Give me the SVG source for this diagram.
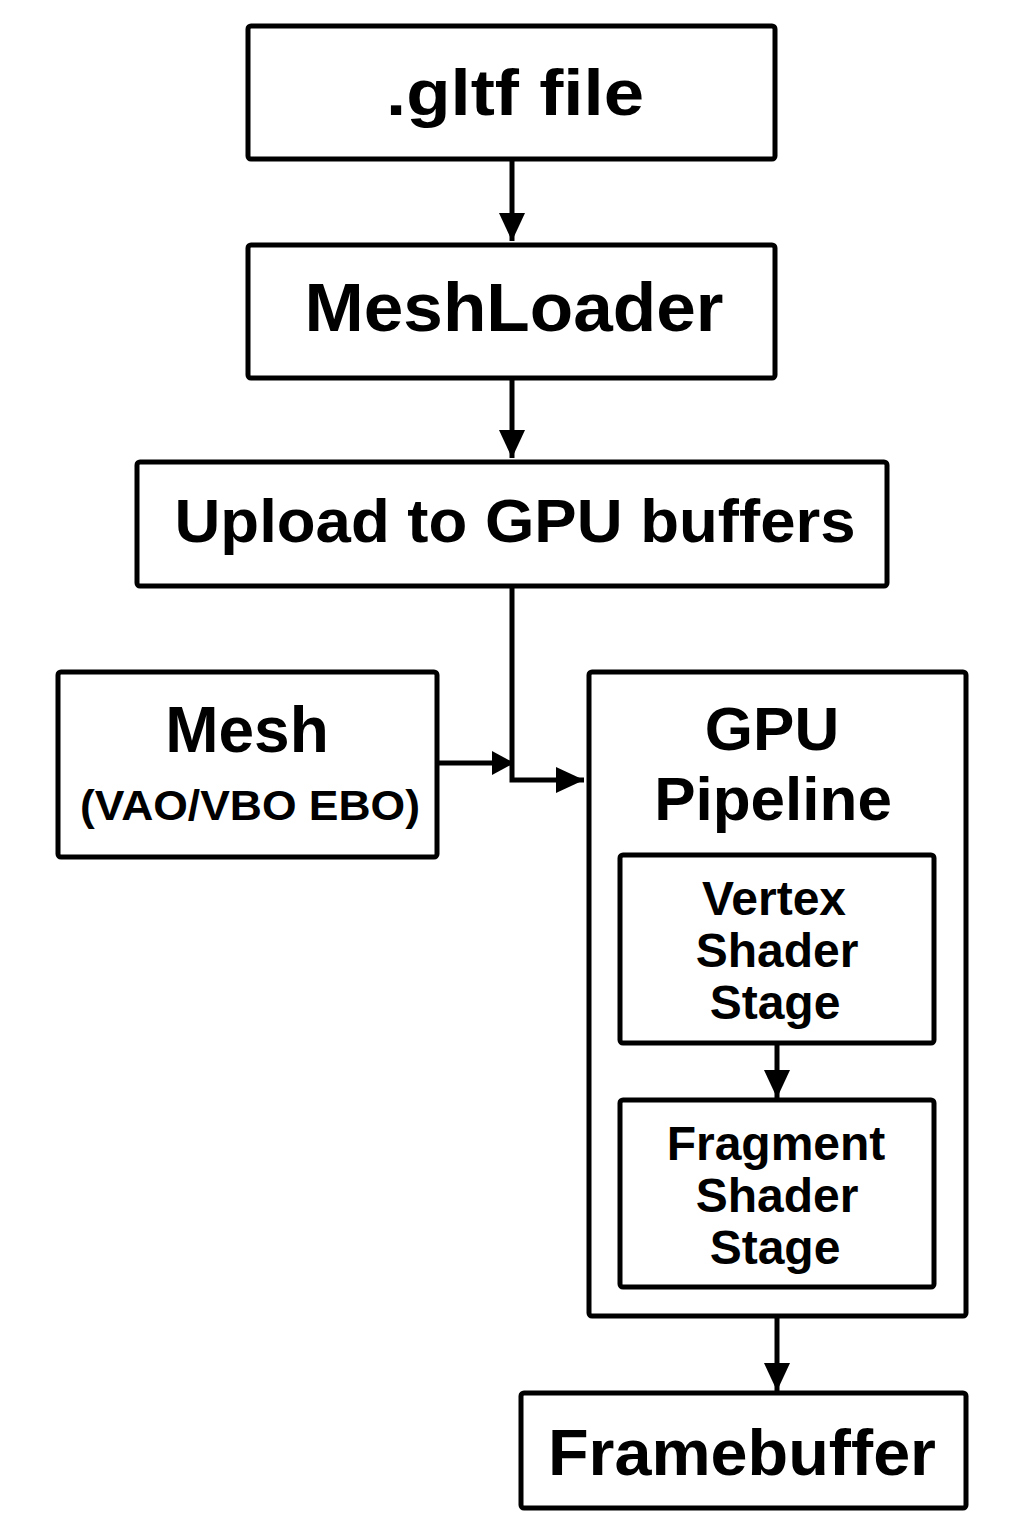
<svg xmlns="http://www.w3.org/2000/svg" width="1024" height="1536" viewBox="0 0 1024 1536">
<style>
.box{fill:#fff;stroke:#000;stroke-width:5;}
.t{font-family:"Liberation Sans",Arial,Helvetica,sans-serif;font-weight:bold;fill:#000;text-anchor:middle;}
.c{fill:none;stroke:#000;stroke-width:5;}
</style>
<defs>
<marker id="ah" markerUnits="userSpaceOnUse" markerWidth="30" markerHeight="28" refX="28" refY="13" orient="auto">
<polygon points="0,0 28,13 0,26" fill="#000"/>
</marker>
<marker id="ahs" markerUnits="userSpaceOnUse" markerWidth="24" markerHeight="26" refX="22" refY="12" orient="auto">
<polygon points="0,0 22,12 0,24" fill="#000"/>
</marker>
</defs>
<rect width="1024" height="1536" fill="#fff"/>
<g id="gltf">
<rect class="box" x="248" y="26" width="527" height="133" rx="3"/>
<text class="t" x="515" y="115" font-size="64" textLength="258" lengthAdjust="spacingAndGlyphs">.gltf file</text>
</g>
<g id="meshloader">
<rect class="box" x="248" y="245" width="527" height="133" rx="3"/>
<text class="t" x="514" y="331" font-size="68" textLength="419" lengthAdjust="spacingAndGlyphs">MeshLoader</text>
</g>
<g id="upload">
<rect class="box" x="137" y="462" width="750" height="124" rx="3"/>
<text class="t" x="515" y="542" font-size="62" textLength="681" lengthAdjust="spacingAndGlyphs">Upload to GPU buffers</text>
</g>
<g id="mesh">
<rect class="box" x="58" y="672" width="379" height="185" rx="3"/>
<text class="t" x="247" y="752" font-size="64">Mesh</text>
<text class="t" x="250" y="820" font-size="42" textLength="340" lengthAdjust="spacingAndGlyphs">(VAO/VBO EBO)</text>
</g>
<g id="pipeline">
<rect class="box" x="589" y="672" width="377" height="644" rx="3"/>
<text class="t" x="772" y="750" font-size="62">GPU</text>
<text class="t" x="773" y="820" font-size="62">Pipeline</text>
</g>
<g id="vertex">
<rect class="box" x="620" y="855" width="314" height="188" rx="3"/>
<text class="t" x="774" y="915" font-size="48">Vertex</text>
<text class="t" x="777" y="967" font-size="48">Shader</text>
<text class="t" x="775" y="1019" font-size="48">Stage</text>
</g>
<g id="fragment">
<rect class="box" x="620" y="1100" width="314" height="187" rx="3"/>
<text class="t" x="776" y="1160" font-size="48">Fragment</text>
<text class="t" x="777" y="1212" font-size="48">Shader</text>
<text class="t" x="775" y="1264" font-size="48">Stage</text>
</g>
<g id="framebuffer">
<rect class="box" x="521" y="1393" width="445" height="115" rx="3"/>
<text class="t" x="742" y="1475" font-size="64" textLength="388" lengthAdjust="spacingAndGlyphs">Framebuffer</text>
</g>
<g id="connectors">
<line class="c" x1="512" y1="161" x2="512" y2="241" marker-end="url(#ah)"/>
<line class="c" x1="512" y1="380" x2="512" y2="458" marker-end="url(#ah)"/>
<polyline class="c" points="512,588 512,780 584,780" marker-end="url(#ah)"/>
<line class="c" x1="439" y1="763" x2="514" y2="763" marker-end="url(#ahs)"/>
<line class="c" x1="777" y1="1045" x2="777" y2="1098" marker-end="url(#ah)"/>
<line class="c" x1="777" y1="1318" x2="777" y2="1391" marker-end="url(#ah)"/>
</g>
</svg>
